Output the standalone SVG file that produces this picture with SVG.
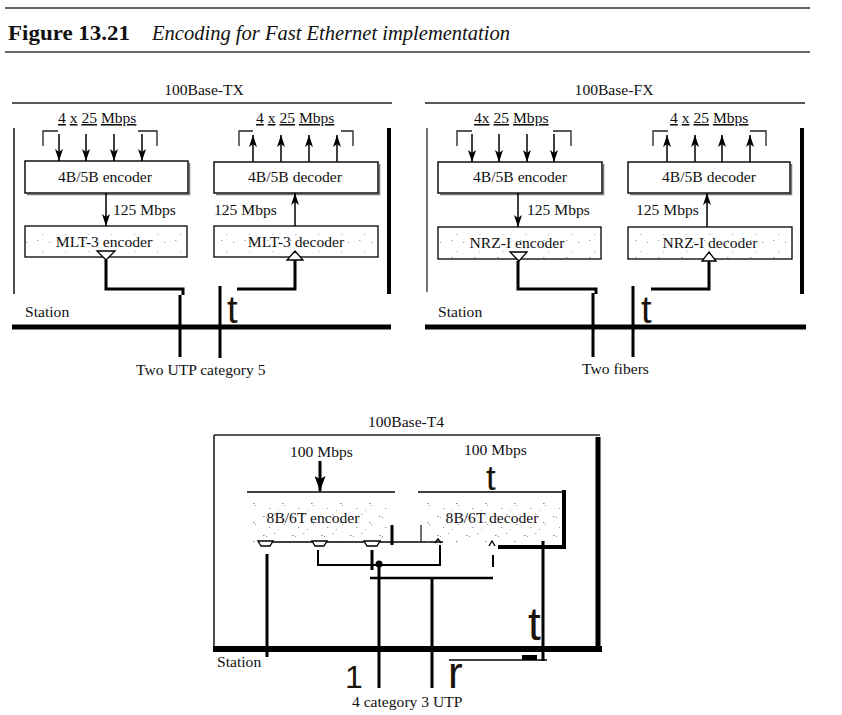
<svg xmlns="http://www.w3.org/2000/svg" width="842" height="715" viewBox="0 0 842 715">
<style>
.t{font-family:"Liberation Serif","Times New Roman",serif;font-size:15.6px;fill:#111}
.m{text-anchor:middle}
.u{text-decoration:underline}
.g{font-family:"Liberation Sans",Arial,sans-serif;fill:#1c140a}
.ln{stroke:#000;stroke-width:1.4;fill:none}
.br{stroke:#222;stroke-width:1.3;fill:none}
.ar{stroke:#000;stroke-width:1.5;fill:none;marker-end:url(#ah)}
.th{stroke:#000;stroke-width:3;fill:none}
.bus{stroke:#000;stroke-width:5}
.box{fill:#fff;stroke:#000;stroke-width:1.4}
.sbox{fill:url(#speck);stroke:#000;stroke-width:1.3}
.sh{stroke:#777;stroke-width:1.5}
.tri{fill:#fff;stroke:#000;stroke-width:1.3}
</style>
<defs>
<marker id="ah" markerUnits="userSpaceOnUse" markerWidth="12" markerHeight="8" refX="12" refY="4" orient="auto">
<path d="M0,0 L12,4 L0,8 L3,4 z" fill="#000"/>
</marker>
<marker id="ahb" markerUnits="userSpaceOnUse" markerWidth="15" markerHeight="11" refX="15" refY="5.5" orient="auto">
<path d="M0,0 L15,5.5 L0,11 L3,5.5 z" fill="#000"/>
</marker>
<pattern id="speck" width="23" height="17" patternUnits="userSpaceOnUse">
<rect width="23" height="17" fill="#fff"/>
<rect x="3" y="4" width="1.2" height="1" fill="#999"/>
<rect x="14" y="2" width="1.5" height="1" fill="#aaa"/>
<rect x="19" y="13" width="1.3" height="1" fill="#bbb"/>
</pattern>
<pattern id="speck2" width="29" height="19" patternUnits="userSpaceOnUse">
<rect x="2" y="3" width="1.5" height="1" fill="#888"/>
<rect x="5" y="4" width="1" height="1" fill="#999"/>
<rect x="13" y="1" width="1.5" height="1" fill="#aaa"/>
<rect x="21" y="9" width="1.5" height="1" fill="#888"/>
<rect x="23" y="11" width="1" height="1" fill="#999"/>
<rect x="8" y="14" width="1.3" height="1" fill="#999"/>
<rect x="17" y="16" width="1" height="1" fill="#aaa"/>
</pattern>
</defs>

<g id="title">
<line x1="5" y1="8" x2="810" y2="8" stroke="#333" stroke-width="1.6"/>
<line x1="5" y1="52" x2="810" y2="52" stroke="#333" stroke-width="1.6"/>
<text x="8" y="40" font-family="Liberation Serif,serif" font-weight="bold" font-size="21" fill="#111" textLength="122" lengthAdjust="spacingAndGlyphs">Figure 13.21</text>
<text x="152" y="40" font-family="Liberation Serif,serif" font-style="italic" font-size="20" fill="#111" textLength="358" lengthAdjust="spacingAndGlyphs">Encoding for Fast Ethernet implementation</text>
</g>

<!-- 100Base-TX -->
<g id="tx-frame">
<text class="t m" x="204" y="95">100Base-TX</text>
<line x1="12" y1="103" x2="392" y2="103" stroke="#222" stroke-width="1.3"/>
<line x1="14" y1="128" x2="14" y2="294" stroke="#222" stroke-width="1.6"/>
<line x1="389" y1="128" x2="389" y2="294" stroke="#000" stroke-width="4"/>
<line class="bus" x1="12" y1="327" x2="391" y2="327"/>
<text class="t" x="25" y="317">Station</text>
<text class="t" x="136" y="375">Two UTP category 5</text>
<text class="g" x="227" y="323" font-size="38">t</text>
</g>
<g id="tx-enc4b5b">
<text class="t" x="58" y="123"><tspan class="u">4</tspan> <tspan class="u">x</tspan> <tspan class="u">25</tspan> <tspan class="u">Mbps</tspan></text>
<polyline class="br" points="43,146 43,131 58,131"/>
<polyline class="br" points="138,131 157,131 157,146"/>
<line class="sh" x1="27" y1="194.5" x2="190" y2="194.5"/>
<line class="sh" x1="189.5" y1="163" x2="189.5" y2="195"/>
<rect class="box" x="25" y="161" width="163" height="32"/>
<text class="t m" x="105" y="182">4B/5B encoder</text>
</g>
<g id="tx-encmlt3">
<rect class="sbox" x="25" y="226" width="162" height="31"/>
<text class="t m" x="104" y="247">MLT-3 encoder</text>
<polygon class="tri" points="97,251 115,251 106,260"/>
</g>
<g id="tx-dec4b5b">
<text class="t" x="256" y="123"><tspan class="u">4</tspan> <tspan class="u">x</tspan> <tspan class="u">25</tspan> <tspan class="u">Mbps</tspan></text>
<polyline class="br" points="239,146 239,131 253,131"/>
<polyline class="br" points="341,131 353,131 353,146"/>
<line class="sh" x1="216" y1="194.5" x2="380" y2="194.5"/>
<line class="sh" x1="379.5" y1="164" x2="379.5" y2="195"/>
<rect class="box" x="214" y="162" width="164" height="31"/>
<text class="t m" x="295" y="182">4B/5B decoder</text>
</g>
<g id="tx-decmlt3">
<rect class="sbox" x="214" y="226" width="164" height="31"/>
<text class="t m" x="296" y="247">MLT-3 decoder</text>
<polygon class="tri" points="287,260 303,260 295,251"/>
</g>
<g id="tx-connectors">
<line class="ar" x1="59" y1="134" x2="59" y2="161"/>
<line class="ar" x1="86" y1="134" x2="86" y2="161"/>
<line class="ar" x1="114" y1="134" x2="114" y2="161"/>
<line class="ar" x1="142" y1="134" x2="142" y2="161"/>
<line class="ar" x1="106" y1="193" x2="106" y2="226"/>
<text class="t" x="113" y="215">125 Mbps</text>
<line class="ar" x1="253" y1="162" x2="253" y2="135"/>
<line class="ar" x1="281" y1="162" x2="281" y2="135"/>
<line class="ar" x1="309" y1="162" x2="309" y2="135"/>
<line class="ar" x1="337" y1="162" x2="337" y2="135"/>
<line class="ar" x1="295" y1="226" x2="295" y2="193"/>
<text class="t" x="214" y="215">125 Mbps</text>
<polyline class="th" points="106,260 106,289 183,289 183,295"/>
<line class="th" x1="180" y1="295" x2="180" y2="357"/>
<line class="th" x1="220" y1="286" x2="220" y2="358"/>
<polyline class="th" points="237,289 295,289 295,260"/>
</g>

<!-- 100Base-FX -->
<g id="fx-frame">
<text class="t m" x="614" y="95">100Base-FX</text>
<line x1="425" y1="103" x2="805" y2="103" stroke="#222" stroke-width="1.3"/>
<line x1="427" y1="128" x2="427" y2="292" stroke="#666" stroke-width="1.8"/>
<line x1="802" y1="128" x2="802" y2="294" stroke="#000" stroke-width="4"/>
<line class="bus" x1="425" y1="327" x2="806" y2="327"/>
<text class="t" x="438" y="317">Station</text>
<text class="t" x="582" y="374">Two fibers</text>
<text class="g" x="641" y="323" font-size="38">t</text>
</g>
<g id="fx-enc4b5b">
<text class="t" x="474" y="123"><tspan class="u">4x</tspan> <tspan class="u">25</tspan> <tspan class="u">Mbps</tspan></text>
<polyline class="br" points="457,146 457,131 472,131"/>
<polyline class="br" points="553,131 571,131 571,146"/>
<line class="sh" x1="440" y1="194.5" x2="604" y2="194.5"/>
<line class="sh" x1="603.5" y1="164" x2="603.5" y2="195"/>
<rect class="box" x="438" y="162" width="164" height="31"/>
<text class="t m" x="520" y="182">4B/5B encoder</text>
</g>
<g id="fx-encnrzi">
<rect class="sbox" x="438" y="227" width="163" height="32"/>
<text class="t m" x="517" y="248">NRZ-I  encoder</text>
<polygon class="tri" points="510,252 527,252 519,261"/>
</g>
<g id="fx-dec4b5b">
<text class="t" x="670" y="123"><tspan class="u">4</tspan> <tspan class="u">x</tspan> <tspan class="u">25</tspan> <tspan class="u">Mbps</tspan></text>
<polyline class="br" points="653,146 653,131 668,131"/>
<polyline class="br" points="750,131 766,131 766,146"/>
<line class="sh" x1="630" y1="194.5" x2="792" y2="194.5"/>
<line class="sh" x1="791.5" y1="164" x2="791.5" y2="195"/>
<rect class="box" x="628" y="162" width="162" height="31"/>
<text class="t m" x="709" y="182">4B/5B decoder</text>
</g>
<g id="fx-decnrzi">
<rect class="sbox" x="628" y="227" width="164" height="32"/>
<text class="t m" x="710" y="248">NRZ-I decoder</text>
<polygon class="tri" points="702,261 716,261 709,252"/>
</g>
<g id="fx-connectors">
<line class="ar" x1="472" y1="134" x2="472" y2="162"/>
<line class="ar" x1="499" y1="134" x2="499" y2="162"/>
<line class="ar" x1="527" y1="134" x2="527" y2="162"/>
<line class="ar" x1="554" y1="134" x2="554" y2="162"/>
<line class="ar" x1="518" y1="193" x2="518" y2="227"/>
<text class="t" x="527" y="215">125 Mbps</text>
<line class="ar" x1="667" y1="162" x2="667" y2="135"/>
<line class="ar" x1="695" y1="162" x2="695" y2="135"/>
<line class="ar" x1="722" y1="162" x2="722" y2="135"/>
<line class="ar" x1="750" y1="162" x2="750" y2="135"/>
<line class="ar" x1="707" y1="227" x2="707" y2="193"/>
<text class="t" x="636" y="215">125 Mbps</text>
<polyline class="th" points="518,261 518,289 596,289 596,294"/>
<line class="th" x1="593" y1="293" x2="593" y2="357"/>
<line class="th" x1="633" y1="286" x2="633" y2="357"/>
<polyline class="th" points="651,289 709,289 709,261"/>
</g>

<!-- 100Base-T4 -->
<g id="t4-frame">
<text class="t m" x="406" y="427">100Base-T4</text>
<line x1="214" y1="435" x2="600" y2="435" stroke="#222" stroke-width="1.4"/>
<line x1="214" y1="435" x2="214" y2="648" stroke="#222" stroke-width="1.6"/>
<line x1="598" y1="437" x2="598" y2="647" stroke="#000" stroke-width="5"/>
<line x1="213" y1="649" x2="602" y2="649" stroke="#000" stroke-width="6"/>
<text class="t" x="217" y="667">Station</text>
<text class="t" x="352" y="707">4 category 3 UTP</text>
</g>
<g id="t4-encoder">
<text class="t" x="290" y="457">100 Mbps</text>
<line x1="320" y1="461" x2="320" y2="491" stroke="#000" stroke-width="3" marker-end="url(#ahb)"/>
<line class="ln" x1="247" y1="492" x2="395" y2="492"/>
<rect x="250" y="500" width="140" height="42" fill="url(#speck2)"/>
<text class="t m" x="313" y="523">8B/6T encoder</text>
<line class="ln" x1="258" y1="542" x2="443" y2="542"/>
<polygon class="tri" points="258,541 273,541 270,546 261,546"/>
<polygon class="tri" points="312,541 327,541 324,546 315,546"/>
<polygon class="tri" points="364,541 380,541 377,546 367,546"/>
<line class="th" x1="392" y1="525" x2="392" y2="545"/>
</g>
<g id="t4-decoder">
<text class="t" x="464" y="455">100 Mbps</text>
<text class="g" x="486" y="490" font-size="35">t</text>
<line class="ln" x1="418" y1="492" x2="563" y2="492"/>
<rect x="424" y="500" width="136" height="42" fill="url(#speck2)"/>
<text class="t m" x="492" y="523">8B/6T decoder</text>
<line x1="564" y1="490" x2="564" y2="549" stroke="#000" stroke-width="4"/>
<line x1="498" y1="547" x2="566" y2="547" stroke="#000" stroke-width="4"/>
<line x1="421" y1="525" x2="421" y2="542" stroke="#222" stroke-width="1.3"/>
<polyline class="ln" points="435,543 438,539 441,543"/>
<polyline class="ln" points="489,546 492,541 495,546"/>
</g>
<g id="t4-connectors">
<line class="th" x1="267" y1="554" x2="267" y2="657"/>
<polyline points="318,550 318,565 440,565 440,545" fill="none" stroke="#000" stroke-width="2"/>
<line class="th" x1="372" y1="550" x2="372" y2="570"/>
<circle cx="379" cy="564" r="3.5" fill="#000"/>
<line class="th" x1="379" y1="564" x2="379" y2="688"/>
<line x1="370" y1="578" x2="493" y2="578" stroke="#000" stroke-width="2.5"/>
<line class="th" x1="432" y1="578" x2="432" y2="688"/>
<line x1="493" y1="555" x2="493" y2="567" stroke="#000" stroke-width="2"/>
<line class="th" x1="543" y1="541" x2="543" y2="661"/>
<line x1="449" y1="660" x2="547" y2="660" stroke="#000" stroke-width="1.6"/>
<rect x="522" y="655" width="15" height="5" fill="#000"/>
<text class="g" x="528" y="640" font-size="46">t</text>
<text class="g" x="345" y="688" font-size="32">1</text>
<text class="g" x="448" y="688" font-size="44">r</text>
</g>
</svg>
